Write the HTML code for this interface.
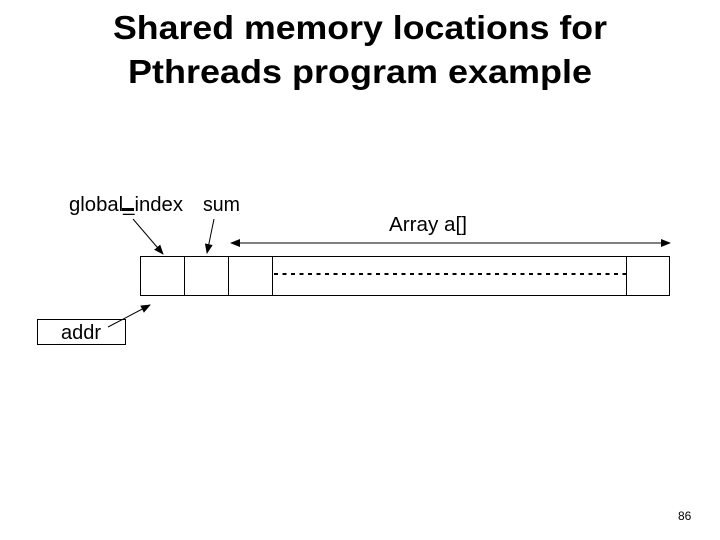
<!DOCTYPE html>
<html><head><meta charset="utf-8"><style>
html,body{margin:0;padding:0;background:#fff;}
svg{display:block;}
text{font-family:"Liberation Sans",Arial,sans-serif;fill:#000;}
</style></head><body>
<svg width="720" height="540" viewBox="0 0 720 540" xmlns="http://www.w3.org/2000/svg">
<defs>
<marker id="ah" markerWidth="10" markerHeight="8" refX="9" refY="4" orient="auto" markerUnits="userSpaceOnUse">
<path d="M0,0 L10,4 L0,8 z" fill="#000"/>
</marker>
</defs>
<text x="360" y="39" font-size="33" font-weight="bold" text-anchor="middle" textLength="494" lengthAdjust="spacingAndGlyphs">Shared memory locations for</text>
<text x="360" y="83" font-size="33" font-weight="bold" text-anchor="middle" textLength="464" lengthAdjust="spacingAndGlyphs">Pthreads program example</text>

<text x="69" y="211" font-size="20" textLength="114" lengthAdjust="spacingAndGlyphs">global_index</text>
<rect x="122" y="208" width="12" height="3" fill="#000"/>
<text x="203" y="211" font-size="20" textLength="37" lengthAdjust="spacingAndGlyphs">sum</text>
<text x="389" y="231" font-size="20" textLength="78" lengthAdjust="spacingAndGlyphs">Array a[]</text>

<line x1="133" y1="219" x2="163" y2="254" stroke="#000" stroke-width="1" marker-end="url(#ah)"/>
<line x1="214" y1="219" x2="207" y2="253" stroke="#000" stroke-width="1" marker-end="url(#ah)"/>
<line x1="450" y1="243" x2="231" y2="243" stroke="#000" stroke-width="1" marker-end="url(#ah)"/>
<line x1="450" y1="243" x2="670" y2="243" stroke="#000" stroke-width="1" marker-end="url(#ah)"/>

<rect x="140.5" y="256.5" width="529" height="39" fill="none" stroke="#000" stroke-width="1"/>
<line x1="184.5" y1="256" x2="184.5" y2="296" stroke="#000"/>
<line x1="228.5" y1="256" x2="228.5" y2="296" stroke="#000"/>
<line x1="272.5" y1="256" x2="272.5" y2="296" stroke="#000"/>
<line x1="626.5" y1="256" x2="626.5" y2="296" stroke="#000"/>
<line x1="274" y1="274" x2="626" y2="274" stroke="#000" stroke-width="2" stroke-dasharray="4,4.5"/>

<rect x="37.5" y="319.5" width="88" height="25" fill="none" stroke="#000"/>
<text x="61" y="339" font-size="20" textLength="40" lengthAdjust="spacingAndGlyphs">addr</text>
<line x1="108" y1="327" x2="150" y2="305" stroke="#000" marker-end="url(#ah)"/>

<text x="678" y="520" font-size="12">86</text>
</svg>
</body></html>
